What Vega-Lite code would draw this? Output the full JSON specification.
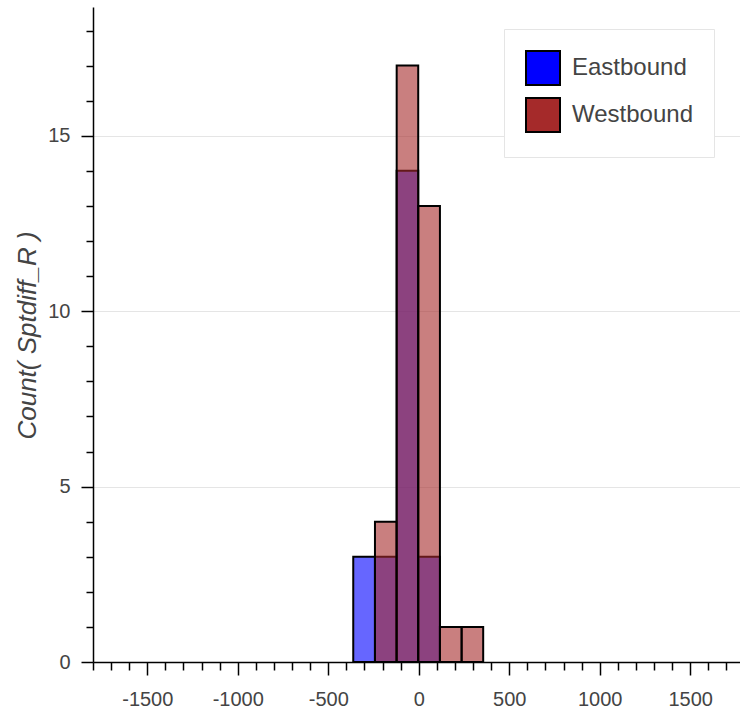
{
  "$schema": "https://vega.github.io/schema/vega-lite/v6.json",
  "autosize": "none",
  "padding": {"left": 93, "top": 7, "right": 0, "bottom": 47},
  "width": 647,
  "height": 655,
  "background": "white",
  "config": {"view": {"stroke": null}, "font": "Liberation Sans"},
  "data": {
    "values": [
      {"direction": "Eastbound", "bin_start": -362, "bin_end": -242, "count": 3},
      {"direction": "Eastbound", "bin_start": -242, "bin_end": -122, "count": 3},
      {"direction": "Eastbound", "bin_start": -122, "bin_end": -3, "count": 14},
      {"direction": "Eastbound", "bin_start": -3, "bin_end": 117, "count": 3},
      {"direction": "Westbound", "bin_start": -242, "bin_end": -122, "count": 4},
      {"direction": "Westbound", "bin_start": -122, "bin_end": -3, "count": 17},
      {"direction": "Westbound", "bin_start": -3, "bin_end": 117, "count": 13},
      {"direction": "Westbound", "bin_start": 117, "bin_end": 237, "count": 1},
      {"direction": "Westbound", "bin_start": 237, "bin_end": 356, "count": 1}
    ]
  },
  "encoding": {
    "x": {
      "field": "bin_start",
      "type": "quantitative",
      "scale": {"domain": [-1800, 1775], "nice": false, "zero": false},
      "axis": {
        "title": null,
        "grid": false,
        "values": [-1800,-1700,-1600,-1500,-1400,-1300,-1200,-1100,-1000,-900,-800,-700,-600,-500,-400,-300,-200,-100,0,100,200,300,400,500,600,700,800,900,1000,1100,1200,1300,1400,1500,1600,1700],
        "labelExpr": "datum.value % 500 === 0 ? '' + datum.value : ''",
        "labelOverlap": false,
        "labelFlush": false,
        "labelFontSize": 20,
        "labelColor": "#444444",
        "labelPadding": 14,
        "domainColor": "black",
        "domainWidth": 1.5,
        "tickColor": "black",
        "tickWidth": 1.5,
        "tickSize": {"condition": {"test": "datum.value % 500 === 0", "value": 13}, "value": 8}
      }
    },
    "x2": {"field": "bin_end"},
    "y": {
      "field": "count",
      "type": "quantitative",
      "stack": null,
      "scale": {"domain": [0, 18.67], "nice": false},
      "axis": {
        "title": "Count( Sptdiff_R )",
        "titleFontStyle": "italic",
        "titleFontWeight": "normal",
        "titleFontSize": 26,
        "titleColor": "#444444",
        "titleAngle": -90,
        "titleX": -58,
        "titleY": 328,
        "titleAlign": "center",
        "titleBaseline": "alphabetic",
        "values": [0,1,2,3,4,5,6,7,8,9,10,11,12,13,14,15,16,17,18],
        "labelExpr": "datum.value % 5 === 0 ? '' + datum.value : ''",
        "labelOverlap": false,
        "labelFontSize": 20,
        "labelColor": "#444444",
        "labelPadding": 11,
        "domainColor": "black",
        "domainWidth": 1.5,
        "tickColor": "black",
        "tickWidth": 1.5,
        "tickSize": {"condition": {"test": "datum.value % 5 === 0", "value": 12}, "value": 7},
        "grid": true,
        "gridColor": "#e5e5e5",
        "gridWidth": 1,
        "gridOpacity": {"condition": {"test": "datum.value % 5 === 0 && datum.value > 0", "value": 1}, "value": 0}
      }
    },
    "y2": {"datum": 0},
    "color": {
      "field": "direction",
      "type": "nominal",
      "scale": {"domain": ["Eastbound", "Westbound"], "range": ["#0000ff", "#a52a2a"]},
      "legend": {
        "title": null,
        "orient": "none",
        "legendX": 411,
        "legendY": 22,
        "padding": 21,
        "fillColor": "white",
        "strokeColor": "#e5e5e5",
        "symbolType": "square",
        "symbolSize": 1156,
        "symbolOpacity": 1,
        "symbolStrokeColor": "black",
        "symbolStrokeWidth": 2,
        "labelFontSize": 24,
        "labelColor": "#444444",
        "labelOffset": 11,
        "rowPadding": 5,
        "labelLimit": 300,
        "symbolLimit": 10
      }
    }
  },
  "layer": [
    {
      "transform": [{"filter": "datum.direction === 'Eastbound'"}],
      "mark": {"type": "bar", "fillOpacity": 0.6, "stroke": "black", "strokeWidth": 2}
    },
    {
      "transform": [{"filter": "datum.direction === 'Westbound'"}],
      "mark": {"type": "bar", "fillOpacity": 0.6, "stroke": "black", "strokeWidth": 2}
    }
  ]
}
